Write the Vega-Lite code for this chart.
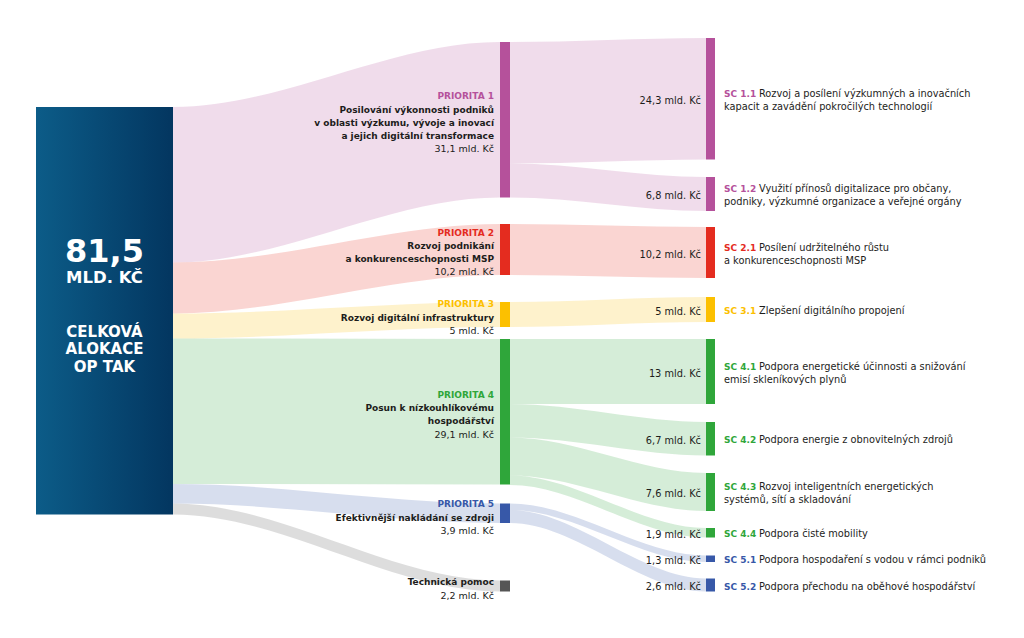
{
  "$schema": "https://vega.github.io/schema/vega-lite/v6.json",
  "width": 1024,
  "height": 638,
  "autosize": {"type": "none"},
  "padding": 0,
  "background": "#ffffff",
  "config": {"view": {"stroke": null}, "font": "DejaVu Sans"},
  "datasets": {
    "nodes": [
      {"id": "OP", "col": 0, "top": 21.4, "v": 81.5, "g": "OP", "unit": "MLD. KČ", "name": "CELKOVÁ\nALOKACE\nOP TAK"},
      {"id": "P1", "col": 2, "top": 8.4, "v": 31.1, "g": "P1"},
      {"id": "P2", "col": 2, "top": 44.8, "v": 10.2, "g": "P2"},
      {"id": "P3", "col": 2, "top": 60.4, "v": 5, "g": "P3"},
      {"id": "P4", "col": 2, "top": 67.8, "v": 29.1, "g": "P4"},
      {"id": "P5", "col": 2, "top": 100.7, "v": 3.9, "g": "P5"},
      {"id": "TP", "col": 2, "top": 116.1, "v": 2.2, "g": "TP"},
      {"id": "SC 1.1", "col": 4, "top": 7.6, "v": 24.3, "g": "P1"},
      {"id": "SC 1.2", "col": 4, "top": 35.4, "v": 6.8, "g": "P1"},
      {"id": "SC 2.1", "col": 4, "top": 45.4, "v": 10.2, "g": "P2"},
      {"id": "SC 3.1", "col": 4, "top": 59.4, "v": 5, "g": "P3"},
      {"id": "SC 4.1", "col": 4, "top": 67.8, "v": 13, "g": "P4"},
      {"id": "SC 4.2", "col": 4, "top": 84.4, "v": 6.7, "g": "P4"},
      {"id": "SC 4.3", "col": 4, "top": 94.6, "v": 7.6, "g": "P4"},
      {"id": "SC 4.4", "col": 4, "top": 105.6, "v": 1.9, "g": "P4"},
      {"id": "SC 5.1", "col": 4, "top": 111.1, "v": 1.3, "g": "P5"},
      {"id": "SC 5.2", "col": 4, "top": 115.7, "v": 2.6, "g": "P5"}
    ],
    "links": [
      {"s": "OP", "t": "P1", "v": 31.1, "o": 1},
      {"s": "OP", "t": "P2", "v": 10.2, "o": 2},
      {"s": "OP", "t": "P3", "v": 5, "o": 3},
      {"s": "OP", "t": "P4", "v": 29.1, "o": 4},
      {"s": "OP", "t": "P5", "v": 3.9, "o": 5},
      {"s": "OP", "t": "TP", "v": 2.2, "o": 6},
      {"s": "P1", "t": "SC 1.1", "v": 24.3, "o": 1},
      {"s": "P1", "t": "SC 1.2", "v": 6.8, "o": 2},
      {"s": "P2", "t": "SC 2.1", "v": 10.2, "o": 1},
      {"s": "P3", "t": "SC 3.1", "v": 5, "o": 1},
      {"s": "P4", "t": "SC 4.1", "v": 13, "o": 1},
      {"s": "P4", "t": "SC 4.2", "v": 6.7, "o": 2},
      {"s": "P4", "t": "SC 4.3", "v": 7.6, "o": 3},
      {"s": "P4", "t": "SC 4.4", "v": 1.9, "o": 4},
      {"s": "P5", "t": "SC 5.1", "v": 1.3, "o": 1},
      {"s": "P5", "t": "SC 5.2", "v": 2.6, "o": 2}
    ],
    "plab": [
      {"id": "P1", "role": "head", "text": "PRIORITA 1"},
      {"id": "P1", "role": "name", "text": "Posilování výkonnosti podniků"},
      {"id": "P1", "role": "name", "text": "v oblasti výzkumu, vývoje a inovací"},
      {"id": "P1", "role": "name", "text": "a jejich digitální transformace"},
      {"id": "P1", "role": "val", "text": "31,1 mld. Kč"},
      {"id": "P2", "role": "head", "text": "PRIORITA 2"},
      {"id": "P2", "role": "name", "text": "Rozvoj podnikání"},
      {"id": "P2", "role": "name", "text": "a konkurenceschopnosti MSP"},
      {"id": "P2", "role": "val", "text": "10,2 mld. Kč"},
      {"id": "P3", "role": "head", "text": "PRIORITA 3"},
      {"id": "P3", "role": "name", "text": "Rozvoj digitální infrastruktury"},
      {"id": "P3", "role": "val", "text": "5 mld. Kč"},
      {"id": "P4", "role": "head", "text": "PRIORITA 4"},
      {"id": "P4", "role": "name", "text": "Posun k nízkouhlíkovému"},
      {"id": "P4", "role": "name", "text": "hospodářství"},
      {"id": "P4", "role": "val", "text": "29,1 mld. Kč"},
      {"id": "P5", "role": "head", "text": "PRIORITA 5"},
      {"id": "P5", "role": "name", "text": "Efektivnější nakládání se zdroji"},
      {"id": "P5", "role": "val", "text": "3,9 mld. Kč"},
      {"id": "TP", "role": "name", "text": "Technická pomoc"},
      {"id": "TP", "role": "val", "text": "2,2 mld. Kč"}
    ],
    "slab": [
      {"id": "SC 1.1", "text": "Rozvoj a posílení výzkumných a inovačních"},
      {"id": "SC 1.1", "text": "kapacit a zavádění pokročilých technologií"},
      {"id": "SC 1.2", "text": "Využití přínosů digitalizace pro občany,"},
      {"id": "SC 1.2", "text": "podniky, výzkumné organizace a veřejné orgány"},
      {"id": "SC 2.1", "text": "Posílení udržitelného růstu"},
      {"id": "SC 2.1", "text": "a konkurenceschopnosti MSP"},
      {"id": "SC 3.1", "text": "Zlepšení digitálního propojení"},
      {"id": "SC 4.1", "text": "Podpora energetické účinnosti a snižování"},
      {"id": "SC 4.1", "text": "emisí skleníkových plynů"},
      {"id": "SC 4.2", "text": "Podpora energie z obnovitelných zdrojů"},
      {"id": "SC 4.3", "text": "Rozvoj inteligentních energetických"},
      {"id": "SC 4.3", "text": "systémů, sítí a skladování"},
      {"id": "SC 4.4", "text": "Podpora čisté mobility"},
      {"id": "SC 5.1", "text": "Podpora hospodaření s vodou v rámci podniků"},
      {"id": "SC 5.2", "text": "Podpora přechodu na oběhové hospodářství"}
    ]
  },
  "layer": [
    {
      "data": {"name": "links"},
      "transform": [
        {"window": [{"op": "sum", "field": "v", "as": "cum"}], "groupby": ["s"], "sort": [{"field": "o"}], "frame": [null, 0]},
        {"lookup": "s", "from": {"data": {"name": "nodes"}, "key": "id", "fields": ["col", "top"]}, "as": ["sCol", "sTop"]},
        {"lookup": "t", "from": {"data": {"name": "nodes"}, "key": "id", "fields": ["col", "top", "g"]}, "as": ["tCol", "tTop", "g"]},
        {"calculate": "[0, 0.001, 0.999, 1]", "as": "f"},
        {"flatten": ["f"]},
        {"calculate": "datum.sCol + 1 + datum.f * (datum.tCol - datum.sCol - 1)", "as": "px"},
        {"calculate": "datum.f < 0.5 ? datum.sTop + datum.cum - datum.v : datum.tTop", "as": "py"},
        {"calculate": "datum.py + datum.v", "as": "py2"}
      ],
      "mark": {"type": "area", "interpolate": "monotone", "fillOpacity": 0.2},
      "encoding": {
        "x": {"field": "px", "type": "quantitative", "axis": null, "scale": {"domain": [0, 1, 2, 3, 4, 5], "range": [36, 173, 500, 510, 706, 715], "zero": false, "nice": false}},
        "y": {"field": "py", "type": "quantitative", "axis": null, "stack": null, "scale": {"domain": [0, 127.6], "range": [0, 638], "zero": false, "nice": false}},
        "y2": {"field": "py2"},
        "detail": {"field": "t"},
        "color": {"field": "g", "type": "nominal", "legend": null, "scale": {"domain": ["P1", "P2", "P3", "P4", "P5", "TP"], "range": ["#b5519b", "#e42c1f", "#fcc000", "#2fa63a", "#3758a8", "#555555"]}}
      }
    },
    {
      "data": {"name": "nodes"},
      "transform": [
        {"filter": "datum.col == 0"},
        {"calculate": "datum.col + 1", "as": "col2"},
        {"calculate": "datum.top + datum.v", "as": "bot"}
      ],
      "mark": {"type": "rect", "color": {"gradient": "linear", "x1": 0, "y1": 0, "x2": 1, "y2": 0, "stops": [{"offset": 0, "color": "#0c5c88"}, {"offset": 1, "color": "#033660"}]}},
      "encoding": {
        "x": {"field": "col", "type": "quantitative", "axis": null, "scale": {"domain": [0, 1, 2, 3, 4, 5], "range": [36, 173, 500, 510, 706, 715], "zero": false, "nice": false}},
        "x2": {"field": "col2"},
        "y": {"field": "top", "type": "quantitative", "axis": null, "scale": {"domain": [0, 127.6], "range": [0, 638], "zero": false, "nice": false}},
        "y2": {"field": "bot"}
      }
    },
    {
      "data": {"name": "nodes"},
      "transform": [
        {"filter": "datum.col > 0"},
        {"calculate": "datum.col + 1", "as": "col2"},
        {"calculate": "datum.top + datum.v", "as": "bot"}
      ],
      "mark": {"type": "rect"},
      "encoding": {
        "x": {"field": "col", "type": "quantitative", "axis": null, "scale": {"domain": [0, 1, 2, 3, 4, 5], "range": [36, 173, 500, 510, 706, 715], "zero": false, "nice": false}},
        "x2": {"field": "col2"},
        "y": {"field": "top", "type": "quantitative", "axis": null, "scale": {"domain": [0, 127.6], "range": [0, 638], "zero": false, "nice": false}},
        "y2": {"field": "bot"},
        "color": {"field": "g", "type": "nominal", "legend": null, "scale": {"domain": ["P1", "P2", "P3", "P4", "P5", "TP"], "range": ["#b5519b", "#e42c1f", "#fcc000", "#2fa63a", "#3758a8", "#555555"]}}
      }
    },
    {
      "data": {"name": "nodes"},
      "transform": [
        {"filter": "datum.col == 0"},
        {"calculate": "datum.col + 0.5", "as": "xm"},
        {"calculate": "datum.top + datum.v / 2", "as": "cy"},
        {"calculate": "replace(format(datum.v, '.1f'), '.', ',')", "as": "total"}
      ],
      "encoding": {
        "x": {"field": "xm", "type": "quantitative", "axis": null, "scale": {"domain": [0, 1, 2, 3, 4, 5], "range": [36, 173, 500, 510, 706, 715], "zero": false, "nice": false}},
        "y": {"field": "cy", "type": "quantitative", "axis": null, "scale": {"domain": [0, 127.6], "range": [0, 638], "zero": false, "nice": false}}
      },
      "layer": [
        {"mark": {"type": "text", "fontSize": 32, "fontWeight": "bold", "color": "#ffffff", "align": "center", "baseline": "alphabetic", "dy": -49}, "encoding": {"text": {"field": "total"}}},
        {"mark": {"type": "text", "fontSize": 16.5, "fontWeight": "bold", "color": "#ffffff", "align": "center", "baseline": "alphabetic", "dy": -27.5}, "encoding": {"text": {"field": "unit"}}},
        {"mark": {"type": "text", "fontSize": 15, "fontWeight": "bold", "color": "#ffffff", "align": "center", "baseline": "alphabetic", "dy": 26, "lineBreak": "\n", "lineHeight": 17.5}, "encoding": {"text": {"field": "name"}}}
      ]
    },
    {
      "data": {"name": "plab"},
      "transform": [
        {"window": [{"op": "row_number", "as": "line"}], "groupby": ["id"]},
        {"joinaggregate": [{"op": "count", "as": "n"}], "groupby": ["id"]},
        {"lookup": "id", "from": {"data": {"name": "nodes"}, "key": "id", "fields": ["col", "top", "v", "g"]}},
        {"calculate": "max(datum.top + datum.v / 2 + 0.6, datum.top + 1.3 * (datum.n - 1) + 0.2) + (datum.line - 1 - (datum.n - 1) / 2) * 2.65", "as": "ly"}
      ],
      "encoding": {
        "x": {"field": "col", "type": "quantitative", "axis": null, "scale": {"domain": [0, 1, 2, 3, 4, 5], "range": [36, 173, 500, 510, 706, 715], "zero": false, "nice": false}},
        "y": {"field": "ly", "type": "quantitative", "axis": null, "scale": {"domain": [0, 127.6], "range": [0, 638], "zero": false, "nice": false}},
        "text": {"field": "text"}
      },
      "layer": [
        {
          "transform": [{"filter": "datum.role == 'head'"}],
          "mark": {"type": "text", "fontSize": 9, "fontWeight": "bold", "align": "right", "baseline": "middle", "dx": -6},
          "encoding": {"color": {"field": "g", "type": "nominal", "legend": null, "scale": {"domain": ["P1", "P2", "P3", "P4", "P5", "TP"], "range": ["#b5519b", "#e42c1f", "#fcc000", "#2fa63a", "#3758a8", "#555555"]}}}
        },
        {
          "transform": [{"filter": "datum.role == 'name'"}],
          "mark": {"type": "text", "fontSize": 9, "fontWeight": "bold", "align": "right", "baseline": "middle", "dx": -6, "color": "#1d1d1b"}
        },
        {
          "transform": [{"filter": "datum.role == 'val'"}],
          "mark": {"type": "text", "fontSize": 9.5, "align": "right", "baseline": "middle", "dx": -6, "color": "#1d1d1b"}
        }
      ]
    },
    {
      "data": {"name": "nodes"},
      "transform": [
        {"filter": "datum.col == 4"},
        {"calculate": "datum.top + datum.v / 2 + 0.4", "as": "cy"},
        {"calculate": "replace(format(datum.v, '~f'), '.', ',') + ' mld. Kč'", "as": "lbl"}
      ],
      "mark": {"type": "text", "fontSize": 9.8, "align": "right", "baseline": "middle", "dx": -5, "color": "#1d1d1b"},
      "encoding": {
        "x": {"field": "col", "type": "quantitative", "axis": null, "scale": {"domain": [0, 1, 2, 3, 4, 5], "range": [36, 173, 500, 510, 706, 715], "zero": false, "nice": false}},
        "y": {"field": "cy", "type": "quantitative", "axis": null, "scale": {"domain": [0, 127.6], "range": [0, 638], "zero": false, "nice": false}},
        "text": {"field": "lbl"}
      }
    },
    {
      "data": {"name": "slab"},
      "transform": [
        {"window": [{"op": "row_number", "as": "line"}], "groupby": ["id"]},
        {"joinaggregate": [{"op": "count", "as": "n"}], "groupby": ["id"]},
        {"lookup": "id", "from": {"data": {"name": "nodes"}, "key": "id", "fields": ["col", "top", "v", "g"]}},
        {"calculate": "datum.col + 1", "as": "cr"},
        {"calculate": "datum.top + datum.v / 2 + 0.3 + (datum.line - 1 - (datum.n - 1) / 2) * 2.6", "as": "ly"}
      ],
      "encoding": {
        "x": {"field": "cr", "type": "quantitative", "axis": null, "scale": {"domain": [0, 1, 2, 3, 4, 5], "range": [36, 173, 500, 510, 706, 715], "zero": false, "nice": false}},
        "y": {"field": "ly", "type": "quantitative", "axis": null, "scale": {"domain": [0, 127.6], "range": [0, 638], "zero": false, "nice": false}}
      },
      "layer": [
        {
          "transform": [{"filter": "datum.line == 1"}],
          "mark": {"type": "text", "fontSize": 9, "fontWeight": "bold", "align": "left", "baseline": "middle", "dx": 9},
          "encoding": {
            "text": {"field": "id"},
            "color": {"field": "g", "type": "nominal", "legend": null, "scale": {"domain": ["P1", "P2", "P3", "P4", "P5", "TP"], "range": ["#b5519b", "#e42c1f", "#fcc000", "#2fa63a", "#3758a8", "#555555"]}}
          }
        },
        {
          "transform": [{"filter": "datum.line == 1"}],
          "mark": {"type": "text", "fontSize": 9.8, "align": "left", "baseline": "middle", "dx": 44, "color": "#1d1d1b"},
          "encoding": {"text": {"field": "text"}}
        },
        {
          "transform": [{"filter": "datum.line > 1"}],
          "mark": {"type": "text", "fontSize": 9.8, "align": "left", "baseline": "middle", "dx": 9, "color": "#1d1d1b"},
          "encoding": {"text": {"field": "text"}}
        }
      ]
    }
  ]
}
